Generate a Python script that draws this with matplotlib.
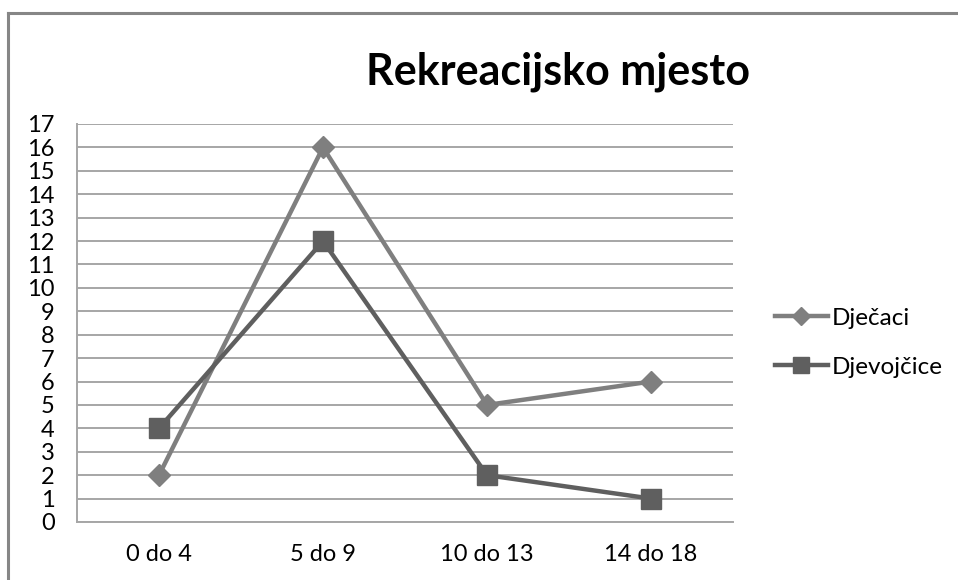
import matplotlib
matplotlib.use("Agg")
import matplotlib.pyplot as plt
from matplotlib.lines import Line2D

categories = ["0 do 4", "5 do 9", "10 do 13", "14 do 18"]
djecaci = [2, 16, 5, 6]
djevojcice = [4, 12, 2, 1]
y_ticks = list(range(0, 18))

plt.rcParams['font.family'] = ['Lato', 'DejaVu Sans']

W, H = 958, 580
fig = plt.figure(figsize=(W / 100, H / 100), dpi=100)
fig.patch.set_facecolor("white")

# figure border (top and left visible)
fig.add_artist(Line2D([8 / W, 8 / W], [0, 1 - 13 / H], transform=fig.transFigure, color="#868686", lw=2.2))
fig.add_artist(Line2D([8 / W, 1], [1 - 13 / H, 1 - 13 / H], transform=fig.transFigure, color="#868686", lw=2.2))

ax = fig.add_axes([77 / W, 1 - 522 / H, (733 - 77) / W, (522 - 124) / H])
x = list(range(len(categories)))

ax.plot(x, djecaci, color="#7f7f7f", lw=3.2, marker="D", markersize=11, label="Dječaci", zorder=3)
ax.plot(x, djevojcice, color="#5f5f5f", lw=3.2, marker="s", markersize=14, label="Djevojčice", zorder=3)

ax.set_xlim(-0.5, 3.5)
ax.set_ylim(0, 17)
ax.set_yticks(y_ticks)
ax.set_yticklabels([str(v) for v in y_ticks], fontsize=17)
ax.set_xticks(x)
ax.set_xticklabels(categories, fontsize=17)
ax.yaxis.grid(True, color="#a6a6a6", lw=1.4)
ax.set_axisbelow(True)
ax.tick_params(axis="both", length=0)
ax.tick_params(axis="y", pad=16)
ax.tick_params(axis="x", pad=16)
for s in ["top", "right"]:
    ax.spines[s].set_visible(False)
for s in ["left", "bottom"]:
    ax.spines[s].set_color("#a6a6a6")
    ax.spines[s].set_linewidth(1.4)

fig.text(558 / W, 1 - 72 / H, "Rekreacijsko mjesto", fontsize=31, fontweight="bold",
         ha="center", va="center")

leg = ax.legend(loc="center left", bbox_to_anchor=(1.045, 0.45), frameon=False, fontsize=17.5,
                handlelength=2.2, handletextpad=0.15, labelspacing=1.15, borderpad=0,
                markerscale=0.85)

fig.savefig("out.png", dpi=100)
